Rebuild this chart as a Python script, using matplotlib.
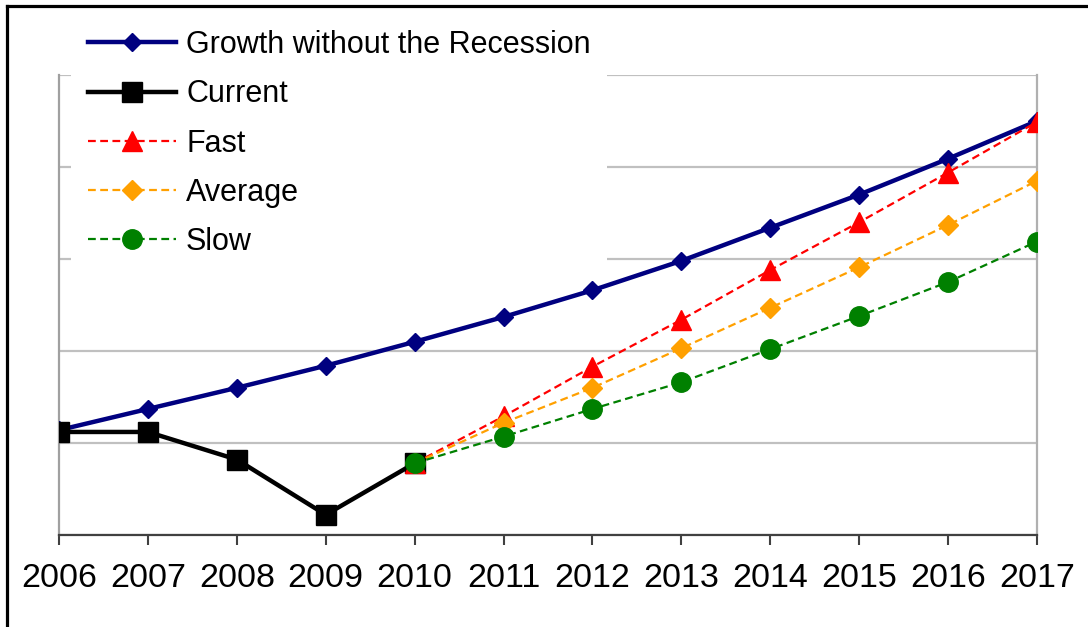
import numpy as np
import matplotlib
matplotlib.use("Agg")
import matplotlib.pyplot as plt
from matplotlib.patches import Rectangle
from matplotlib.lines import Line2D

plt.rcParams['font.family'] = ['Liberation Sans', 'DejaVu Sans']

#%% Data (grid units)

years = [2006, 2007, 2008, 2009, 2010, 2011, 2012, 2013, 2014, 2015, 2016, 2017]
years_current = years[:5]
years_proj = years[4:]

growth = [1.14, 1.37, 1.60, 1.84, 2.10, 2.37, 2.66, 2.98, 3.34, 3.70, 4.09, 4.50]
current = [1.12, 1.12, 0.82, 0.22, 0.78]
fast = [0.78, 1.29, 1.83, 2.34, 2.88, 3.40, 3.94, 4.49]
average = [0.78, 1.22, 1.60, 2.03, 2.47, 2.91, 3.37, 3.85]
slow = [0.78, 1.07, 1.37, 1.66, 2.02, 2.38, 2.75, 3.19]

grid_levels = [0, 1, 2, 3, 4, 5]

#%% Plot

fig = plt.figure(figsize=(10.88, 6.27), dpi=100)
ax = fig.add_axes([59 / 1088, 92 / 627, 978 / 1088, 460 / 627])

dash = (0, (3.5, 2))
ax.plot(years, growth, color='#000080', lw=3.2, marker='D', ms=9,
        label='Growth without the Recession', zorder=3)
ax.plot(years_current, current, color='black', lw=3.2, marker='s', ms=14,
        label='Current', zorder=4)
ax.plot(years_proj, fast, color='red', lw=1.6, ls=dash, marker='^', ms=14,
        label='Fast', zorder=5)
ax.plot(years_proj, average, color='#FFA000', lw=1.6, ls=dash, marker='D', ms=10.5,
        label='Average', zorder=6)
ax.plot(years_proj, slow, color='green', lw=1.6, ls=dash, marker='o', ms=14,
        label='Slow', zorder=7)

ax.set_xlim(years[0], years[-1])
ax.set_ylim(grid_levels[0], grid_levels[-1])
ax.set_xticks(years)
ax.set_yticks(grid_levels)
ax.set_yticklabels([])
ax.tick_params(axis='y', length=0)
ax.tick_params(axis='x', direction='out', length=7, width=1.5, color='#404040',
               pad=13, labelsize=24.5)

ax.set_axisbelow(True)
ax.grid(axis='y', color='#c0c0c0', lw=1.6)
ax.grid(axis='x', visible=False)

ax.spines['top'].set_visible(False)
ax.spines['left'].set_color('#a0a0a0')
ax.spines['left'].set_linewidth(1.6)
ax.spines['right'].set_color('#b0b0b0')
ax.spines['right'].set_linewidth(1.6)
ax.spines['bottom'].set_color('#404040')
ax.spines['bottom'].set_linewidth(1.6)

# white legend area hides the grid behind it
ax.add_patch(Rectangle((0.012, 0.58), 0.548, 0.44, transform=ax.transAxes,
                       facecolor='white', edgecolor='none', zorder=1, clip_on=False))

leg = ax.legend(loc='upper left', bbox_to_anchor=(88 / 1088, 1 - 30 / 627),
                bbox_transform=fig.transFigure, frameon=False, fontsize=22,
                handlelength=2.88, handletextpad=0.33, labelspacing=0.63,
                borderpad=0, borderaxespad=0)

# frame lines on left and top of the picture
fig.add_artist(Line2D([7 / 1088, 7 / 1088], [0, 1 - 6 / 627], color='black', lw=2.3,
                      transform=fig.transFigure))
fig.add_artist(Line2D([7 / 1088, 1], [1 - 6 / 627, 1 - 6 / 627], color='black', lw=2.3,
                      transform=fig.transFigure))

fig.savefig('out.png', dpi=100)
